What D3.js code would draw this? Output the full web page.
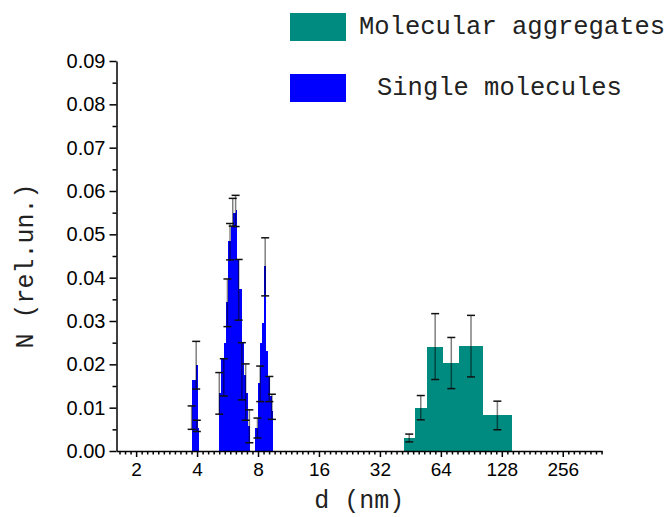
<!DOCTYPE html>
<html lang="en">
  <head>
    <meta charset="UTF-8" />
    <title>Size distribution</title>
    <style>
      body { margin: 0; background: #fff; }
      svg { display: block; }
      .tick text { font-family: "Liberation Sans", Arial, sans-serif; }
      .mono { font-family: "Liberation Mono", "Courier New", monospace; }
    </style>
  </head>
  <body>
    <div id="chart"></div>
    <script src="https://d3js.org/d3.v7.min.js"></script>
    <script>
      // x tick labels (nm, log2 axis) and y tick labels
      const xTicks = [2, 4, 8, 16, 32, 64, 128, 256];
      const yTicks = [0, 0.01, 0.02, 0.03, 0.04, 0.05, 0.06, 0.07, 0.08, 0.09];

      // molecular aggregates: [from nm, to nm, N, error]
      const aggregates = [
        [42, 47.5, 0.0030, 0.0009],
        [47.5, 54.6, 0.0100, 0.0028],
        [54.6, 65.9, 0.0241, 0.0076],
        [65.9, 78.8, 0.0203, 0.0059],
        [78.8, 103.2, 0.0242, 0.0071],
        [103.2, 143.5, 0.0082, 0.0033]
      ];

      // single molecules: [from nm, to nm, N]
      const singles = [
        [3.76, 3.93, 0.0165], [3.93, 4.03, 0.0198], [4.03, 4.08, 0.0052],
        [5.12, 5.25, 0.0134], [5.25, 5.45, 0.0215], [5.45, 5.58, 0.0250],
        [5.58, 5.71, 0.0343], [5.71, 5.86, 0.0484], [5.86, 6.03, 0.0520],
        [6.03, 6.21, 0.0550], [6.21, 6.33, 0.0556], [6.33, 6.45, 0.0440],
        [6.45, 6.68, 0.0373], [6.68, 6.80, 0.0250], [6.80, 6.95, 0.0175],
        [6.95, 7.10, 0.0135], [7.10, 7.34, 0.0057],
        [7.76, 8.01, 0.0053], [8.01, 8.22, 0.0157], [8.22, 8.40, 0.0250],
        [8.40, 8.53, 0.0296], [8.53, 8.77, 0.0426], [8.77, 8.97, 0.0230],
        [8.97, 9.21, 0.0172], [9.21, 9.39, 0.0126], [9.39, 9.49, 0.0092]
      ];

      // single molecules error bars: [d nm, N, error]
      const singlesErr = [
        [3.76, 0.0077, 0.0027], [3.96, 0.0198, 0.0055], [3.99, 0.0058, 0.0013],
        [5.15, 0.0133, 0.0048], [5.42, 0.0170, 0.0043], [5.65, 0.0342, 0.0055],
        [5.82, 0.0483, 0.0042], [6.00, 0.0551, 0.0032], [6.20, 0.0554, 0.0036],
        [6.42, 0.0372, 0.0070], [6.66, 0.0184, 0.0066], [6.95, 0.0136, 0.0065],
        [7.25, 0.0057, 0.0038],
        [7.95, 0.0053, 0.0023], [8.20, 0.0155, 0.0041], [8.68, 0.0425, 0.0067],
        [9.10, 0.0143, 0.0029], [9.37, 0.0102, 0.0029]
      ];

      const legend = [
        { name: "Molecular aggregates", color: "#008b80" },
        { name: "Single molecules", color: "#0000ff" }
      ];

      const width = 668, height = 517;
      const svg = d3.select("#chart").append("svg")
        .attr("width", width).attr("height", height);

      const x = d3.scaleLog().base(2).domain([1.6, 400]).range([116.5, 602]);
      const y = d3.scaleLinear().domain([0, 0.09]).range([451, 61]);

      // minor ticks: 10 per octave, evenly spaced on the log axis
      const xMinor = [];
      for (let k = 0; k < 9; k++)
        for (let j = 1; j <= 10; j++) {
          const v = Math.pow(2, k + j / 11);
          if (v >= 1.6 && v <= 400) xMinor.push(v);
        }
      const yMinor = d3.range(0.005, 0.09, 0.01);

      const plot = svg.append("g");

      // aggregates bars
      plot.selectAll("rect.agg").data(aggregates).join("rect")
        .attr("class", "agg")
        .attr("x", d => x(d[0]))
        .attr("width", d => x(d[1]) - x(d[0]))
        .attr("y", d => y(d[2]))
        .attr("height", d => y(0) - y(d[2]))
        .attr("fill", legend[0].color)
        .attr("shape-rendering", "crispEdges");

      // single molecule bars
      plot.selectAll("rect.single").data(singles).join("rect")
        .attr("class", "single")
        .attr("x", d => x(d[0]))
        .attr("width", d => x(d[1]) - x(d[0]))
        .attr("y", d => y(d[2]))
        .attr("height", d => y(0) - y(d[2]))
        .attr("fill", legend[1].color)
        .attr("shape-rendering", "crispEdges");

      // error bars
      const errs = aggregates.map(d => [Math.sqrt(d[0] * d[1]), d[2], d[3]])
        .concat(singlesErr);
      const eb = plot.selectAll("g.err").data(errs).join("g").attr("class", "err");
      eb.append("line")
        .attr("x1", d => x(d[0])).attr("x2", d => x(d[0]))
        .attr("y1", d => y(d[1] + d[2])).attr("y2", d => y(d[1] - d[2]))
        .attr("stroke", "#000").attr("stroke-opacity", 0.5).attr("stroke-width", 1.5);
      eb.selectAll("line.cap").data(d => [[d[0], d[1] + d[2]], [d[0], d[1] - d[2]]])
        .join("line").attr("class", "cap")
        .attr("x1", d => x(d[0]) - 4).attr("x2", d => x(d[0]) + 4)
        .attr("y1", d => y(d[1])).attr("y2", d => y(d[1]))
        .attr("stroke", "#111").attr("stroke-width", 1.5);

      // axes
      const xAxis = svg.append("g").attr("transform", `translate(0,${y(0)})`)
        .call(d3.axisBottom(x).tickValues(xTicks).tickFormat(d3.format("d"))
          .tickSize(6).tickPadding(6).tickSizeOuter(0));
      svg.append("g").attr("transform", `translate(0,${y(0)})`)
        .call(d3.axisBottom(x).tickValues(xMinor).tickFormat("").tickSize(3.5).tickSizeOuter(0))
        .call(g => g.select(".domain").remove());
      const yAxis = svg.append("g").attr("transform", `translate(${x.range()[0]},0)`)
        .call(d3.axisLeft(y).tickValues(yTicks).tickFormat(d3.format(".2f"))
          .tickSize(7).tickPadding(4).tickSizeOuter(0));
      svg.append("g").attr("transform", `translate(${x.range()[0]},0)`)
        .call(d3.axisLeft(y).tickValues(yMinor).tickFormat("").tickSize(4).tickSizeOuter(0))
        .call(g => g.select(".domain").remove());

      svg.selectAll(".domain, .tick line").attr("stroke", "#000").attr("stroke-width", 1.5);
      xAxis.selectAll(".tick text").attr("font-size", 19).attr("fill", "#000");
      yAxis.selectAll(".tick text").attr("font-size", 20).attr("fill", "#000");

      // axis titles
      svg.append("text").attr("class", "mono")
        .attr("x", (x.range()[0] + x.range()[1]) / 2).attr("y", 508)
        .attr("text-anchor", "middle").attr("font-size", 25).attr("fill", "#222")
        .style("white-space", "pre")
        .text("d (nm)");
      svg.append("text").attr("class", "mono")
        .attr("transform", "translate(33,266) rotate(-90)")
        .attr("text-anchor", "middle").attr("font-size", 25).attr("fill", "#222")
        .style("white-space", "pre")
        .text("N (rel.un.)");

      // legend
      const lg = svg.append("g");
      lg.selectAll("rect").data(legend).join("rect")
        .attr("x", 290).attr("y", (d, i) => 13 + i * 61)
        .attr("width", 56).attr("height", 28)
        .attr("fill", d => d.color);
      lg.selectAll("text").data(legend).join("text").attr("class", "mono")
        .attr("x", (d, i) => i ? 377 : 359).attr("y", (d, i) => 34 + i * 61)
        .attr("font-size", 25.5).attr("fill", "#222")
        .text(d => d.name);
    </script>
  </body>
</html>
